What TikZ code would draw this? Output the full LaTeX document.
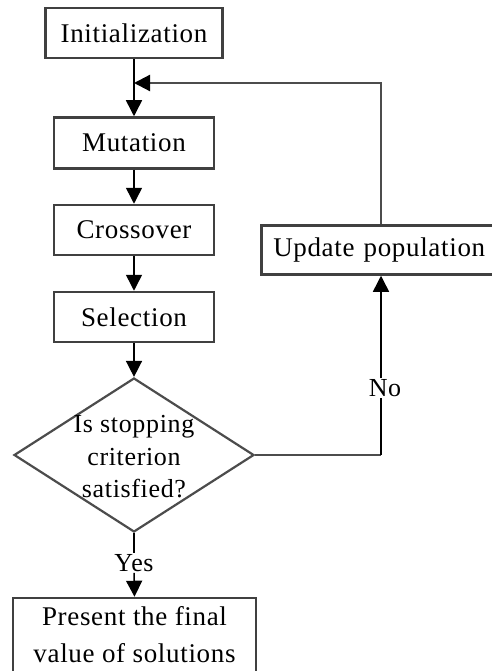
\documentclass[tikz,border=0pt]{standalone}
\usepackage{fontspec}
\setmainfont{Liberation Serif}[LetterSpace=2.5]
\usetikzlibrary{arrows.meta,shapes.geometric}
\tikzset{
  box/.style={draw=black!75, line width=2.5pt, fill=white, inner sep=0pt, font=\fontsize{27}{32}\selectfont},
  tip/.style={-{Triangle[length=16pt,width=16pt,color=black]}},
  conn/.style={draw=black, line width=1.5pt, tip},
  plain/.style={draw=black, line width=1.5pt},
  gconn/.style={draw=black!70, line width=2.2pt},
  lbl/.style={inner sep=1pt, font=\fontsize{26}{32}\selectfont}
}
\begin{document}
\begin{tikzpicture}[x=1pt,y=-1pt]
\useasboundingbox (0,0) rectangle (491,671);
\node[box, minimum width=177pt, minimum height=50pt] (init) at (134,33) {Initialization};
\node[box, minimum width=160pt, minimum height=51pt] (mut) at (134,143) {Mutation};
\node[box, minimum width=160pt, minimum height=50pt] (cross) at (134,230) {Crossover};
\node[box, minimum width=160pt, minimum height=50pt] (sel) at (134,317) {Selection};
\node[draw=black!70, line width=2.2pt, diamond, minimum width=240pt, minimum height=154pt, inner sep=0pt] (dec) at (134,455) {};
\node[font=\fontsize{26}{32.5}\selectfont, align=center, inner sep=0pt] (dect) at (134,457) {Is stopping\\criterion\\satisfied?};
\node[box, minimum width=240pt, minimum height=49pt, anchor=west, align=left, text width=230pt] (upd) at (260,250) {\hspace*{7pt}Update population};
\node[box, minimum width=243pt, minimum height=74pt, align=center, font=\fontsize{27}{37}\selectfont] (fin) at (134.5,635) {Present the final\\value of solutions};
\node[lbl] (no) at (385,388) {No};
\node[lbl] (yes) at (134,563) {Yes};
\coordinate (j) at (134,83);
\coordinate (c) at (381,455);
\draw[conn] (init.south) -- (mut.north);
\draw[conn] (mut.south) -- (cross.north);
\draw[conn] (cross.south) -- (sel.north);
\draw[conn] (sel.south) -- (dec.north);
\draw[gconn, tip] (upd.north -| c) |- (j);
\draw[gconn] (dec.east) -- (c);
\draw[plain] (c) -- (no.south -| c);
\draw[conn] (no.north -| c) -- (upd.south -| c);
\draw[plain] (dec.south) -- (yes.north);
\draw[conn] (yes.south) -- (fin.north);
\end{tikzpicture}
\end{document}
